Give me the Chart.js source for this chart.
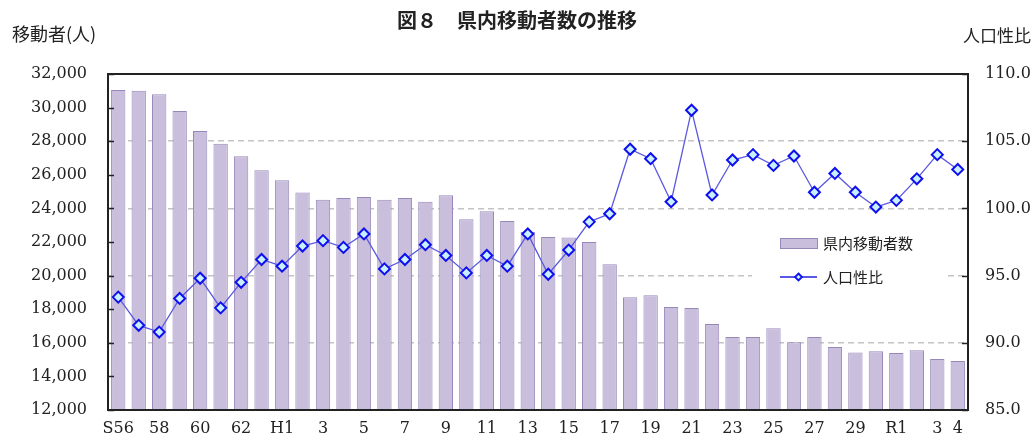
<!DOCTYPE html>
<html lang="ja">
<head>
<meta charset="utf-8">
<script src="https://cdn.jsdelivr.net/npm/chart.js@4.4.1/dist/chart.umd.min.js"></script>
<style>
  body { margin:0; background:#fff; }
  #wrap { width:1035px; height:434px; }
</style>
</head>
<body>
<div id="wrap"><canvas id="chart" width="1035" height="434"></canvas></div>
<script>
/* ---------------- Data ---------------- */
const tickLabels = ['S56','','58','','60','','62','','H1','','3','','5','','7','','9','','11','','13','',
                    '15','','17','','19','','21','','23','','25','','27','','29','','R1','','3','4'];
const movers = [31050,31000,30800,29800,28600,27850,27100,26270,25680,24950,24520,24620,24680,24520,
                24620,24400,24780,23350,23830,23250,22600,22300,22270,22000,20670,18710,18830,18130,
                18070,17120,16350,16350,16860,16030,16350,15750,15430,15490,15390,15550,15040,14920];
const sexRatio = [93.4,91.3,90.8,93.3,94.8,92.6,94.5,96.2,95.7,97.2,97.6,97.1,98.1,95.5,96.2,97.3,
                  96.5,95.2,96.5,95.7,98.1,95.1,96.9,99.0,99.6,104.4,103.7,100.5,107.3,101.0,103.6,
                  104.0,103.2,103.9,101.2,102.6,101.2,100.1,100.6,102.2,104.0,102.9];
const moversLabel = '県内移動者数';
const ratioLabel = '人口性比';

const JP = '"Noto Sans CJK JP", sans-serif';
const NUM = '"DejaVu Serif", serif';

/* ---------------- Frame, ticks, titles, legend ---------------- */
const decor = {
    id: 'decor',
    afterDraw(chart) {
        const ctx = chart.ctx;
        const a = chart.chartArea;
        const y = chart.scales.y, y2 = chart.scales.y2;
        ctx.save();
        // inner tick marks
        ctx.strokeStyle = '#222'; ctx.lineWidth = 1.5;
        y.ticks.forEach(t => {
            const py = Math.round(y.getPixelForValue(t.value)) + 0.5;
            ctx.beginPath(); ctx.moveTo(a.left, py); ctx.lineTo(a.left + 6, py); ctx.stroke();
        });
        y2.ticks.forEach(t => {
            const py = Math.round(y2.getPixelForValue(t.value)) + 0.5;
            ctx.beginPath(); ctx.moveTo(a.right - 6, py); ctx.lineTo(a.right, py); ctx.stroke();
        });
        // frame
        ctx.lineWidth = 2;
        ctx.strokeRect(a.left, a.top, a.right - a.left, a.bottom - a.top);

        // titles
        ctx.fillStyle = '#222';
        ctx.textBaseline = 'middle';
        ctx.font = 'bold 20px ' + JP;
        ctx.textAlign = 'center';
        ctx.fillText('図８　県内移動者数の推移', 517, 20);
        ctx.font = '18px ' + JP;
        ctx.textAlign = 'left';
        ctx.fillText('移動者(人)', 12, 34);
        ctx.font = '17px ' + JP;
        ctx.textAlign = 'right';
        ctx.fillText('人口性比', 1031, 36);

        // legend
        const bar = chart.data.datasets[1], line = chart.data.datasets[0];
        ctx.fillStyle = '#fff';
        ctx.fillRect(752, 226, 194, 66);
        ctx.fillStyle = bar.backgroundColor; ctx.strokeStyle = bar.borderColor; ctx.lineWidth = 1;
        ctx.fillRect(780, 238, 37, 10); ctx.strokeRect(780.5, 238.5, 37, 10);
        ctx.strokeStyle = '#2222dd'; ctx.lineWidth = 1.3;
        ctx.beginPath(); ctx.moveTo(780, 277); ctx.lineTo(817, 277); ctx.stroke();
        ctx.beginPath();
        ctx.moveTo(798.5, 273.5); ctx.lineTo(802, 277); ctx.lineTo(798.5, 280.5); ctx.lineTo(795, 277); ctx.closePath();
        ctx.fillStyle = line.pointBackgroundColor; ctx.fill();
        ctx.strokeStyle = line.pointBorderColor; ctx.lineWidth = 1.8; ctx.stroke();
        ctx.fillStyle = '#222';
        ctx.font = '15px ' + JP;
        ctx.textAlign = 'left';
        ctx.fillText(bar.label, 823, 243);
        ctx.fillText(line.label, 823, 277);
        ctx.restore();
    }
};

// vertical axes: fixed width, no extra top/bottom padding requested from the layout
const fixWidth = w => s => { s.width = w; s.paddingTop = 0; s.paddingBottom = 0; };

/* ---------------- Chart ---------------- */
new Chart(document.getElementById('chart'), {
    type: 'bar',
    data: {
        labels: tickLabels,
        datasets: [{
            type: 'line',
            label: ratioLabel,
            data: sexRatio,
            yAxisID: 'y2',
            order: 0,
            borderColor: '#5a5ae0',
            borderWidth: 1.3,
            pointStyle: 'rectRot',
            pointRadius: 5.5,
            pointBorderWidth: 2,
            pointBorderColor: '#1010ee',
            pointBackgroundColor: '#c8f0ff',
            tension: 0
        }, {
            label: moversLabel,
            data: movers,
            yAxisID: 'y',
            order: 1,
            backgroundColor: '#c9bedb',
            borderColor: '#9788ba',
            borderWidth: 1,
            barPercentage: 0.7,
            categoryPercentage: 1
        }]
    },
    options: {
        responsive: false,
        animation: false,
        layout: { padding: { top: 74, left: 0, right: 0, bottom: 0 } },
        plugins: { legend: { display: false }, title: { display: false }, tooltip: { enabled: false } },
        scales: {
            x: {
                offset: true,
                grid: { display: false, drawTicks: false },
                border: { display: false },
                ticks: { autoSkip: false, maxRotation: 0, padding: 9, color: '#222', font: { family: NUM, size: 16 } },
                afterFit(s) { s.height = 24; s.paddingLeft = 0; s.paddingRight = 0; }
            },
            y: {
                position: 'left',
                min: 12000, max: 32000,
                grid: { display: false, drawTicks: false },
                border: { display: false },
                ticks: { stepSize: 2000, padding: 21, color: '#222', font: { family: NUM, size: 16 },
                         callback: v => v.toLocaleString('en-US') },
                afterFit: fixWidth(108)
            },
            y2: {
                position: 'right',
                min: 85, max: 110,
                grid: { drawOnChartArea: true, drawTicks: false, color: '#c4c4c4', lineWidth: 1.5 },
                border: { display: false, dash: [6, 4] },
                ticks: { stepSize: 5, padding: 17, color: '#222', font: { family: NUM, size: 16 },
                         callback: v => v.toFixed(1) },
                afterFit: fixWidth(67)
            }
        }
    },
    plugins: [decor]
});
</script>
</body>
</html>
